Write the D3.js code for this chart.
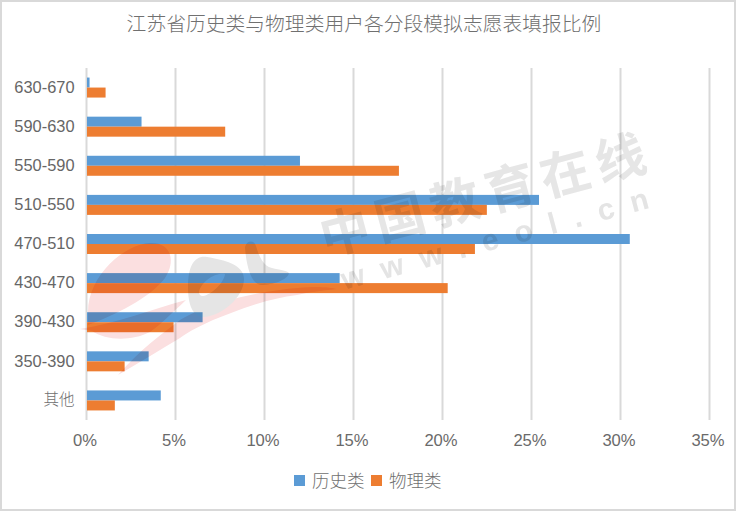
<!DOCTYPE html>
<html>
<head>
<meta charset="utf-8">
<script src="https://cdnjs.cloudflare.com/ajax/libs/d3/7.8.5/d3.min.js"></script>
<style>
  html, body { margin: 0; padding: 0; background: #fff; }
  text { font-family: "Liberation Sans", "Noto Sans CJK SC", sans-serif; fill: #666; }
</style>
</head>
<body>
<svg id="chart" width="737" height="512" style="display:block"></svg>
<script>
// ------------------------------------------------------------------
// data

var categories = ["630-670", "590-630", "550-590", "510-550", "470-510", "430-470", "390-430", "350-390", "其他"];
var history_values = [0.2, 3.12, 12.02, 25.45, 30.55, 14.25, 6.55, 3.52, 4.2];
var physics_values = [1.1, 7.82, 17.58, 22.52, 21.85, 20.32, 4.92, 2.17, 1.62];
var series_names = ["历史类", "物理类"];
var x_ticks = [0, 5, 10, 15, 20, 25, 30, 35];

var colors = ["#5b9bd5", "#ed7d31"];
var cjk = '"Noto Sans CJK SC", sans-serif';

// ------------------------------------------------------------------
// scales

var svg = d3.select("#chart");

var x = d3.scaleLinear().domain([0, 35]).range([86, 709]);
var y = d3.scaleBand().domain(categories).range([68, 420]);
var y_inner = d3.scaleBand().domain([0, 1]).range([0, 20]);
var band_pad = (y.bandwidth() - 20) / 2;

// ------------------------------------------------------------------
// frame and title

svg.append("rect")
  .attr("x", 1).attr("y", 1).attr("width", 734).attr("height", 509)
  .attr("fill", "#fff").attr("stroke", "#d9d9d9").attr("stroke-width", 2);

svg.append("text")
  .attr("x", 364).attr("y", 31)
  .attr("text-anchor", "middle")
  .style("font-family", cjk).style("font-size", "19.8px").style("font-weight", "300")
  .style("fill", "#707070")
  .text("江苏省历史类与物理类用户各分段模拟志愿表填报比例");

// ------------------------------------------------------------------
// axes

var x_axis = svg.append("g")
  .attr("transform", "translate(0,420)")
  .call(d3.axisBottom(x).tickValues(x_ticks).tickSize(-352).tickFormat(function(d){ return d + "%"; }));
x_axis.select(".domain").remove();
x_axis.selectAll("line").attr("stroke", "#d9d9d9").attr("stroke-width", 2);
x_axis.selectAll("text")
  .attr("x", -1.5).attr("y", 21).attr("dy", "0.3em")
  .style("font-size", "16.6px").style("fill", "#6a6a6a");

var y_axis = svg.append("g")
  .attr("transform", "translate(74.5,0)")
  .call(d3.axisLeft(y).tickSize(0).tickPadding(0));
y_axis.select(".domain").remove();
y_axis.selectAll("text")
  .style("font-size", "16.4px").style("fill", "#666");
y_axis.selectAll("text")
  .filter(function(d){ return d == "其他"; })
  .style("font-family", cjk).style("font-size", "15.5px").style("font-weight", "300").style("fill", "#707070");

// ------------------------------------------------------------------
// bars

[history_values, physics_values].forEach(function(values, s){
  svg.append("g").selectAll("rect")
    .data(values)
    .enter().append("rect")
    .attr("x", x(0) + 1)
    .attr("y", function(d, i){ return y(categories[i]) + band_pad + y_inner(s); })
    .attr("width", function(d){ return x(d) - x(0) - 1; })
    .attr("height", y_inner.bandwidth())
    .attr("fill", colors[s]);
});

// ------------------------------------------------------------------
// legend

var legend_x = [294, 371];
series_names.forEach(function(name, s){
  svg.append("rect")
    .attr("x", legend_x[s]).attr("y", 475).attr("width", 11).attr("height", 11)
    .attr("fill", colors[s]);
  svg.append("text")
    .attr("x", legend_x[s] + 18).attr("y", 487)
    .style("font-family", cjk).style("font-size", "17.5px").style("font-weight", "300")
    .style("fill", "#707070")
    .text(name);
});

// ------------------------------------------------------------------
// watermark

var mark = svg.append("g").style("mix-blend-mode", "multiply");

mark.append("text")
  .attr("transform", "translate(325.5,256) rotate(-15)")
  .style("font-family", cjk).style("font-size", "50px").style("font-weight", "700")
  .style("letter-spacing", "7px").style("fill", "#e6e6e6")
  .text("中国教育在线");

mark.append("text")
  .attr("transform", "translate(344.3,289.7) rotate(-15)")
  .style("font-family", "'Liberation Sans', sans-serif").style("font-size", "30px").style("font-weight", "700")
  .style("letter-spacing", "17px").style("fill", "#e4e4e4")
  .text("www.eol.cn");

// red "e" and swoosh
mark.append("path")
  .attr("d", "M88 312C88 275 125 244 150 243C172 242 176 262 165 278C150 298 115 315 88 325Z"
    + "M80 329C120 322 150 310 186 300C170 315 160 325 150 332C130 342 105 340 92 331Z"
    + "M118 375C140 350 160 335 180 320C205 305 250 292 297 288C315 286 330 287 337 289C320 291 310 292 297 295C270 298 240 309 213 320C195 328 185 334 180 338C160 350 140 362 118 375Z")
  .attr("fill", "#fbdfe0");

// grey "o" with its hole, then "l"
mark.append("path")
  .attr("fill-rule", "evenodd")
  .attr("d", "M188 287C188 265 195 255 207 257C225 260 245 265 244 280C243 298 222 315 205 317C193 318 188 305 188 287Z"
    + "M199 292C201 282 215 272 225 274C224 283 211 295 203 296C200 296 199 294 199 292Z"
    + "M245 247C247 240 254 240 256 246C259 256 263 266 272 268C280 270 286 270 289 273C288 280 272 285 262 285C250 285 246 262 245 247Z")
  .attr("fill", "#e5e5e5");
</script>
</body>
</html>
